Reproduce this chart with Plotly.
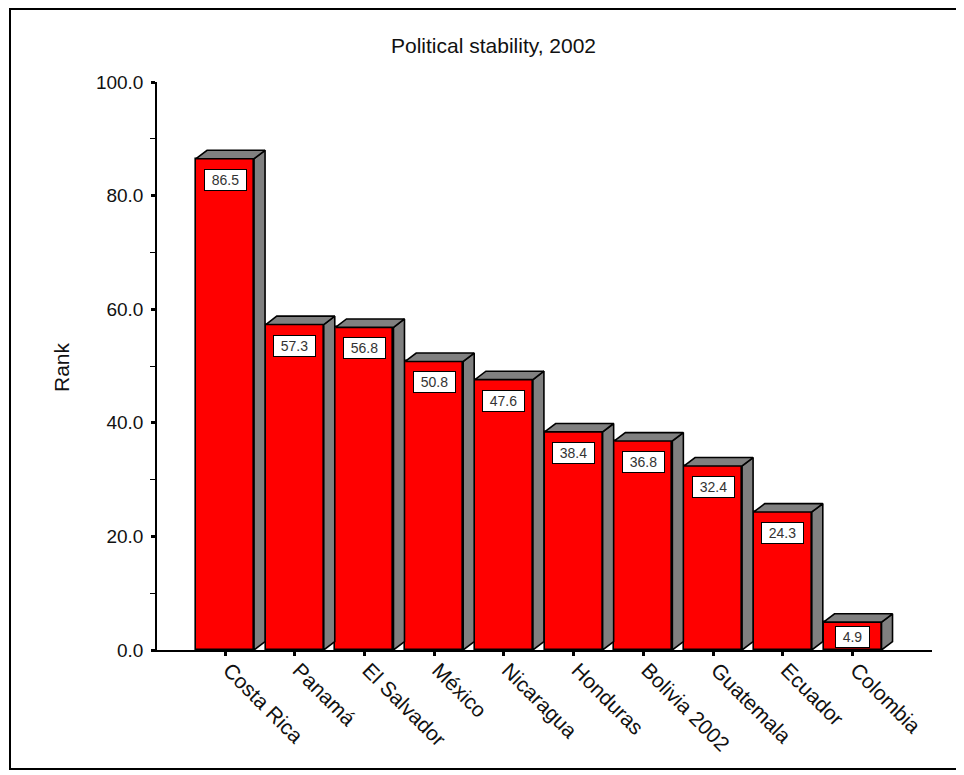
import plotly.graph_objects as go

# ---------------- data ----------------
countries = ["Costa Rica", "Panamá", "El Salvador", "México", "Nicaragua",
             "Honduras", "Bolivia 2002", "Guatemala", "Ecuador", "Colombia"]
ranks = [86.5, 57.3, 56.8, 50.8, 47.6, 38.4, 36.8, 32.4, 24.3, 4.9]
y_tickvals = [0, 20, 40, 60, 80, 100]
y_ticktext = ["0.0", "20.0", "40.0", "60.0", "80.0", "100.0"]
y_minor = [10, 30, 50, 70, 90]
title_text = "Political stability, 2002"
y_title = "Rank"

# ---------------- layout geometry (pixels, in the 964x775 window) ----------------
WIN_W, WIN_H = 964, 775
OFF = 8                      # default page body margin in the browser
FIG_W, FIG_H = WIN_W - OFF, WIN_H - OFF
PX_L, PX_R, PX_T, PX_B = 157, 932, 82, 650
X_RANGE = [-0.976, 10.14]
Y_RANGE = [0, 100]

ux = (PX_R - PX_L) / (X_RANGE[1] - X_RANGE[0])   # px per category
uy = (PX_B - PX_T) / (Y_RANGE[1] - Y_RANGE[0])   # px per unit

bw = 58 / ux        # front-face width
ddx = 11 / ux       # 3D depth (x)
ddy = 8.4 / uy      # 3D depth (y)


def paper_x(px):
    return (px - PX_L) / (PX_R - PX_L)


def paper_y(py):
    return (PX_B - py) / (PX_B - PX_T)


idx = list(range(len(countries)))
RED = "#FF0000"
GRAY = "#808080"
FONT = "Liberation Sans, Arial, sans-serif"
LBL_SIZE = 14

# side faces and top faces, built from the data
side_x, side_y, top_x, top_y = [], [], [], []
for i, v in zip(idx, ranks):
    xl, xr = i - bw / 2, i + bw / 2
    side_x += [xr, xr + ddx, xr + ddx, xr, xr, None]
    side_y += [0, ddy, v + ddy, v, 0, None]
    top_x += [xl, xl + ddx, xr + ddx, xr, xl, None]
    top_y += [v, v + ddy, v + ddy, v, v, None]

fig = go.Figure()
fig.add_trace(go.Scatter(x=side_x, y=side_y, mode="lines", fill="toself",
                         fillcolor=GRAY, line=dict(color="black", width=1.6),
                         hoverinfo="skip", showlegend=False, cliponaxis=False))
fig.add_trace(go.Scatter(x=top_x, y=top_y, mode="lines", fill="toself",
                         fillcolor=GRAY, line=dict(color="black", width=1.6),
                         hoverinfo="skip", showlegend=False, cliponaxis=False))
fig.add_trace(go.Bar(x=idx, y=ranks, width=bw,
                     marker=dict(color=RED, line=dict(color="black", width=1.6)),
                     showlegend=False))

annotations = []
for i, v in zip(idx, ranks):
    txt = f"{v:.1f}"
    n_dig = sum(ch.isdigit() for ch in txt)
    text_w = LBL_SIZE * (0.556 * n_dig + 0.278)
    shift = -min(10, v * uy - 24)
    annotations.append(dict(
        x=i, y=v, xref="x", yref="y", yanchor="top", xanchor="center",
        yshift=shift, showarrow=False, text=txt, width=round(text_w + 10),
        align="center",
        bgcolor="white", bordercolor="black", borderwidth=1, borderpad=2,
        font=dict(family=FONT, size=LBL_SIZE, color="#333333")))

annotations.append(dict(x=paper_x(493), y=paper_y(45), xref="paper", yref="paper",
                        text=title_text, showarrow=False, xanchor="center",
                        yanchor="middle", font=dict(family=FONT, size=21, color="#111111")))
annotations.append(dict(x=paper_x(61), y=paper_y(367), xref="paper", yref="paper",
                        text=y_title, showarrow=False, textangle=-90,
                        xanchor="center", yanchor="middle",
                        font=dict(family=FONT, size=21, color="#111111")))

fig.update_layout(
    width=FIG_W, height=FIG_H,
    margin=dict(l=PX_L - OFF, r=FIG_W - (PX_R - OFF), t=PX_T - OFF,
                b=FIG_H - (PX_B - OFF), pad=0),
    paper_bgcolor="white", plot_bgcolor="white",
    showlegend=False,
    bargap=0,
    annotations=annotations,
    shapes=[dict(type="rect", xref="paper", yref="paper",
                 x0=paper_x(10), x1=paper_x(961), y0=paper_y(769), y1=paper_y(OFF + 1),
                 line=dict(color="black", width=2), fillcolor="rgba(0,0,0,0)",
                 layer="below")],
    xaxis=dict(range=X_RANGE, tickmode="array", tickvals=idx, ticktext=countries,
               tickangle=45, ticks="outside", ticklen=4, tickwidth=3, tickcolor="black",
               ticklabelstandoff=-6, ticklabelshift=4,
               showline=True, linecolor="black", linewidth=1.5,
               showgrid=False, zeroline=False,
               tickfont=dict(family=FONT, size=21, color="#111111")),
    yaxis=dict(range=Y_RANGE, tickmode="array", tickvals=y_tickvals, ticktext=y_ticktext,
               ticks="outside", ticklen=4, tickwidth=3, tickcolor="black",
               ticklabelstandoff=4,
               minor=dict(tickmode="array", tickvals=y_minor, ticks="outside",
                          ticklen=5, tickwidth=1, tickcolor="black"),
               showline=True, linecolor="black", linewidth=1.5,
               showgrid=False, zeroline=False,
               tickfont=dict(family=FONT, size=19, color="#111111")),
)

fig.write_html("out.html")
